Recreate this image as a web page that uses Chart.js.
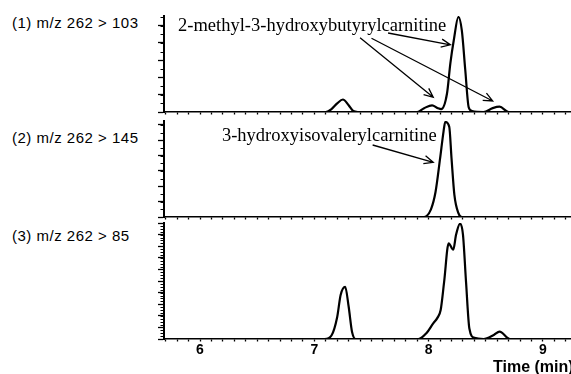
<!DOCTYPE html>
<html><head><meta charset="utf-8">
<script src="https://cdn.jsdelivr.net/npm/chart.js@4/dist/chart.umd.min.js"></script>
<style>
html,body{margin:0;padding:0;background:#fff;}
body{width:571px;height:374px;position:relative;overflow:hidden;}
canvas{position:absolute;left:0;}
.lab{position:absolute;left:12px;font:15px "Liberation Sans",Arial,sans-serif;letter-spacing:0.5px;line-height:17px;color:#000;white-space:nowrap;}
#xt{position:absolute;left:493px;top:358px;font:bold 16px "Liberation Sans",Arial,sans-serif;line-height:18px;color:#000;white-space:nowrap;}
</style></head>
<body>
<div class="lab" id="l1" style="top:14px"></div>
<div class="lab" id="l2" style="top:129px"></div>
<div class="lab" id="l3" style="top:227px"></div>
<canvas id="c1" width="571" height="120" style="top:0px"></canvas>
<canvas id="c2" width="571" height="112" style="top:113px"></canvas>
<canvas id="c3" width="571" height="159" style="top:215px"></canvas>
<div id="xt"></div>
<script>
// ---- data (retention time in min, relative intensity in %) ----
const panelTitles = ['(1) m/z 262 > 103', '(2) m/z 262 > 145', '(3) m/z 262 > 85'];
const xTickLabels = ['6', '7', '8', '9'];
const xTitle = 'Time (min)';

const time1 = [5.68, 7.10, 7.15, 7.20, 7.25, 7.30, 7.34, 7.38, 7.90, 7.96, 8.03, 8.08, 8.11, 8.16, 8.19, 8.22, 8.26, 8.29, 8.32, 8.35, 8.38, 8.48, 8.56, 8.62, 8.70, 9.25];
const int1  = [0, 0, 3, 9, 13, 7, 1, 0, 0, 4, 7, 4, 3, 19, 51, 75, 99, 85, 44, 5, 1, 0, 4, 5.5, 0, 0];

const time2 = [5.68, 7.96, 8.02, 8.06, 8.10, 8.13, 8.145, 8.18, 8.20, 8.225, 8.26, 8.29, 9.25];
const int2  = [0, 0, 8, 26, 61, 89, 99, 94, 61, 23, 4, 0, 0];

const time3 = [5.68, 7.09, 7.15, 7.20, 7.23, 7.27, 7.30, 7.33, 7.36, 7.91, 7.98, 8.04, 8.075, 8.105, 8.135, 8.175, 8.215, 8.24, 8.275, 8.30, 8.327, 8.356, 8.40, 8.48, 8.57, 8.62, 8.71, 9.25];
const int3  = [0, 0, 3, 19, 38, 45, 28, 6, 0, 0, 5, 13.5, 18, 25, 49, 82.5, 77, 90, 99.5, 90, 49, 9, 1, 0, 3.5, 6.3, 0, 0];

// annotation labels: text anchor and arrows [fromTime, fromInt, toTime, toInt]
const label1 = '2-methyl-3-hydroxybutyrylcarnitine';
const label1At = [5.808, 89.6];
const arrows1 = [[7.645, 82.3, 8.19, 70], [7.40, 77.4, 8.04, 15.3], [7.50, 76.8, 8.56, 11.5]];
const label2 = '3-hydroxyisovalerylcarnitine';
const label2At = [6.192, 84.4];
const arrows2 = [[7.51, 75, 8.04, 57]];

// ---- drawing ----
const X_MIN = 5.685, X_MAX = 9.245, AXIS_LEFT = 164;

['l1', 'l2', 'l3'].forEach((id, i) => { document.getElementById(id).textContent = panelTitles[i]; });
document.getElementById('xt').textContent = xTitle;

const calloutPlugin = {
  id: 'callouts',
  afterDatasetsDraw(chart, args, opts) {
    if (!opts || !opts.text) return;
    const xs = chart.scales.x, ys = chart.scales.y, ctx = chart.ctx;
    ctx.save();
    ctx.fillStyle = '#000';
    ctx.strokeStyle = '#000';
    ctx.font = '18.5px "Liberation Serif", "Times New Roman", serif';
    ctx.textBaseline = 'middle';
    ctx.textAlign = 'left';
    ctx.fillText(opts.text, xs.getPixelForValue(opts.at[0]), ys.getPixelForValue(opts.at[1]));
    ctx.lineWidth = 1.3;
    for (const a of opts.arrows) {
      const x0 = xs.getPixelForValue(a[0]), y0 = ys.getPixelForValue(a[1]);
      const x1 = xs.getPixelForValue(a[2]), y1 = ys.getPixelForValue(a[3]);
      const ang = Math.atan2(y1 - y0, x1 - x0), L = 10, w = 0.42;
      ctx.beginPath();
      ctx.moveTo(x0, y0); ctx.lineTo(x1, y1);
      ctx.moveTo(x1 - L * Math.cos(ang - w), y1 - L * Math.sin(ang - w));
      ctx.lineTo(x1, y1);
      ctx.lineTo(x1 - L * Math.cos(ang + w), y1 - L * Math.sin(ang + w));
      ctx.stroke();
    }
    ctx.restore();
  }
};

const minorYPlugin = {
  id: 'minorY',
  afterDraw(chart, args, opts) {
    if (!opts || !opts.step) return;
    const ys = chart.scales.y, ctx = chart.ctx;
    const left = chart.chartArea.left;
    ctx.save();
    ctx.strokeStyle = '#000';
    ctx.lineWidth = 1;
    ctx.beginPath();
    for (let v = opts.step; v < ys.max; v += opts.step) {
      const y = Math.round(ys.getPixelForValue(v)) + 0.5;
      ctx.moveTo(left - 3.5, y); ctx.lineTo(left, y);
    }
    ctx.stroke();
    ctx.restore();
  }
};

function makeChart(id, times, values, opt) {
  const pts = times.map((t, i) => ({x: t, y: values[i]}));
  return new Chart(document.getElementById(id), {
    type: 'line',
    data: {datasets: [{data: pts, borderColor: '#000', borderWidth: 2.2, pointRadius: 0,
      tension: 0.35, cubicInterpolationMode: 'monotone', fill: false}]},
    plugins: [calloutPlugin, minorYPlugin],
    options: {
      responsive: false, animation: false, devicePixelRatio: 1,
      layout: {autoPadding: false, padding: {top: opt.padTop, left: 0, right: 0, bottom: 0}},
      plugins: {legend: {display: false}, tooltip: {enabled: false},
        callouts: opt.callouts || {}, minorY: {step: opt.minorStep}},
      scales: {
        x: {
          type: 'linear', min: X_MIN, max: X_MAX,
          afterFit: s => { s.height = opt.xHeight; },
          border: {display: true, color: '#000', width: 1.5},
          grid: {drawOnChartArea: false, tickLength: 2.5, tickColor: '#000', tickWidth: 1.3},
          ticks: {display: opt.showLabels, stepSize: 0.1, includeBounds: false, autoSkip: false,
            maxTicksLimit: 100, maxRotation: 0, padding: 0, color: '#000',
            font: {family: '"Liberation Sans", Arial, sans-serif', size: 14, weight: 'bold'},
            callback: v => {
              const r = Math.round(v);
              return Math.abs(v - r) < 1e-6 && xTickLabels.includes(String(r)) ? String(r) : '';
            }}
        },
        y: {
          min: 0, max: 100,
          afterFit: s => { s.width = AXIS_LEFT; },
          border: {display: true, color: '#000', width: 2},
          grid: {drawOnChartArea: false, tickLength: 6, tickColor: '#000', tickWidth: 1.3},
          ticks: {display: false, stepSize: opt.majorStep, includeBounds: false, maxTicksLimit: 100}
        }
      }
    }
  });
}

makeChart('c1', time1, int1, {padTop: 16, xHeight: 8, showLabels: false, majorStep: 18, minorStep: 9,
  callouts: {text: label1, at: label1At, arrows: arrows1}});
makeChart('c2', time2, int2, {padTop: 8, xHeight: 8, showLabels: false, majorStep: 16, minorStep: 8,
  callouts: {text: label2, at: label2At, arrows: arrows2}});
makeChart('c3', time3, int3, {padTop: 8, xHeight: 35, showLabels: true, majorStep: 10, minorStep: 2.5});
</script>
</body></html>
